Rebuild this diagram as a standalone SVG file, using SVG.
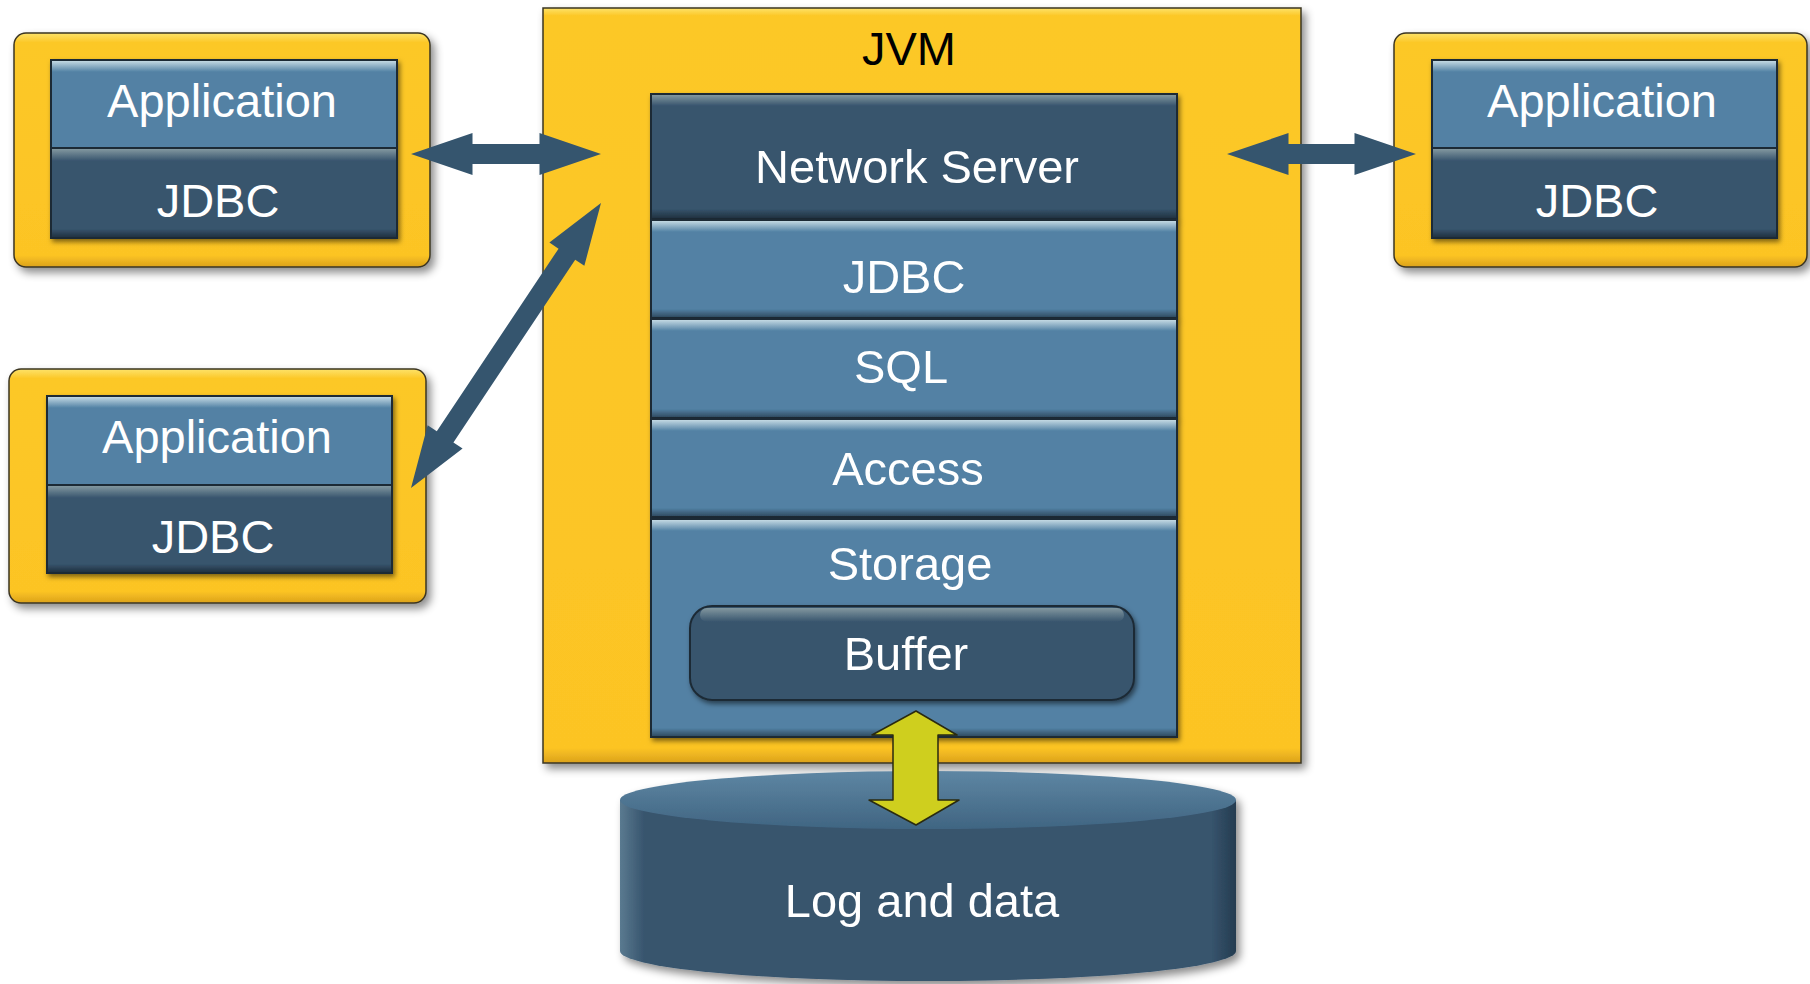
<svg xmlns="http://www.w3.org/2000/svg" width="1810" height="984" viewBox="0 0 1810 984">
<defs>
<filter id="sh" x="-10%" y="-10%" width="125%" height="125%">
<feDropShadow dx="4" dy="5" stdDeviation="4" flood-color="#000" flood-opacity="0.45"/>
</filter>
<filter id="sh2" x="-10%" y="-10%" width="125%" height="125%">
<feDropShadow dx="2" dy="3" stdDeviation="2.5" flood-color="#000" flood-opacity="0.5"/>
</filter>
<linearGradient id="yel" x1="0" y1="0" x2="0" y2="1">
<stop offset="0" stop-color="#fde36b"/>
<stop offset="0.04" stop-color="#fcc828"/>
<stop offset="0.95" stop-color="#fcc424"/>
<stop offset="1" stop-color="#dba21c"/>
</linearGradient>
<linearGradient id="yelS" x1="0" y1="0" x2="0" y2="1">
<stop offset="0" stop-color="#fde36b"/>
<stop offset="0.01" stop-color="#fcc828"/>
<stop offset="0.98" stop-color="#fcc424"/>
<stop offset="1" stop-color="#dba21c"/>
</linearGradient>
<linearGradient id="hl" x1="0" y1="0" x2="0" y2="1">
<stop offset="0" stop-color="#c8dde6" stop-opacity="0.95"/>
<stop offset="1" stop-color="#c8dde6" stop-opacity="0"/>
</linearGradient>
<linearGradient id="hlD" x1="0" y1="0" x2="0" y2="1">
<stop offset="0" stop-color="#8fa3a8" stop-opacity="0.85"/>
<stop offset="1" stop-color="#8fa3a8" stop-opacity="0"/>
</linearGradient>
<linearGradient id="bs" x1="0" y1="0" x2="0" y2="1">
<stop offset="0" stop-color="#000" stop-opacity="0"/>
<stop offset="1" stop-color="#000" stop-opacity="0.4"/>
</linearGradient>
<linearGradient id="cylBody" x1="0" y1="0" x2="1" y2="0">
<stop offset="0" stop-color="#5a7a90"/>
<stop offset="0.04" stop-color="#37546d"/>
<stop offset="0.96" stop-color="#37546d"/>
<stop offset="1" stop-color="#243c50"/>
</linearGradient>
<linearGradient id="cylTop" x1="0" y1="0" x2="0" y2="1">
<stop offset="0" stop-color="#5e86a3"/>
<stop offset="1" stop-color="#406582"/>
</linearGradient>
</defs>
<style>
.yb{stroke:#3a3422;stroke-width:1.5}
.lp{fill:#5281a4;stroke:#1d2b36;stroke-width:2}
.dp{fill:#37546d;stroke:#1d2b36;stroke-width:2}
.t{font-family:"Liberation Sans",Arial,sans-serif;font-size:47px;fill:#fff;text-anchor:middle}
.tk{font-family:"Liberation Sans",Arial,sans-serif;font-size:47px;fill:#000;text-anchor:middle}
.ar{fill:#35556e}
.ga{fill:#cfcf1e;stroke:#2a2a10;stroke-width:1.5;stroke-linejoin:round}
</style>

<g id="jvm">
<rect x="543" y="8" width="758" height="755" fill="url(#yelS)" class="yb" filter="url(#sh)"/>
<text x="909" y="65" class="tk">JVM</text>
</g>

<g id="network-server" filter="url(#sh2)">
<rect x="651" y="94" width="526" height="125" class="dp"/>
<rect x="652" y="95" width="524" height="11" fill="url(#hlD)"/>
<rect x="652" y="209" width="524" height="9" fill="url(#bs)"/>
<text x="917" y="183" class="t">Network Server</text>
</g>

<g id="jdbc-server" filter="url(#sh2)">
<rect x="651" y="220" width="526" height="98" class="lp"/>
<rect x="652" y="221" width="524" height="11" fill="url(#hl)"/>
<rect x="652" y="309" width="524" height="8" fill="url(#bs)"/>
<text x="904" y="293" class="t">JDBC</text>
</g>

<g id="sql" filter="url(#sh2)">
<rect x="651" y="319" width="526" height="99" class="lp"/>
<rect x="652" y="320" width="524" height="11" fill="url(#hl)"/>
<rect x="652" y="409" width="524" height="8" fill="url(#bs)"/>
<text x="901" y="383" class="t">SQL</text>
</g>

<g id="access" filter="url(#sh2)">
<rect x="651" y="419" width="526" height="98" class="lp"/>
<rect x="652" y="420" width="524" height="11" fill="url(#hl)"/>
<rect x="652" y="508" width="524" height="8" fill="url(#bs)"/>
<text x="908" y="485" class="t">Access</text>
</g>

<g id="storage" filter="url(#sh2)">
<rect x="651" y="519" width="526" height="218" class="lp"/>
<rect x="652" y="520" width="524" height="11" fill="url(#hl)"/>
<rect x="652" y="728" width="524" height="8" fill="url(#bs)"/>
<text x="910" y="580" class="t">Storage</text>
</g>

<g id="buffer" filter="url(#sh2)">
<rect x="690" y="606" width="444" height="94" rx="22" class="dp"/>
<rect x="700" y="608" width="424" height="14" rx="7" fill="url(#hlD)"/>
<text x="906" y="670" class="t">Buffer</text>
</g>

<g id="log-and-data" filter="url(#sh)">
<path d="M620,800 L620,951 A308,30 0 0 0 1236,951 L1236,800 Z" fill="url(#cylBody)"/>
<ellipse cx="928" cy="800" rx="308" ry="29" fill="url(#cylTop)"/>
<text x="922" y="917" class="t">Log and data</text>
</g>

<g id="client-top-left">
<rect x="14" y="33" width="416" height="234" rx="12" fill="url(#yel)" class="yb" filter="url(#sh)"/>
<g filter="url(#sh2)">
<rect x="51" y="60" width="346" height="88" class="lp"/>
<rect x="52" y="61" width="344" height="11" fill="url(#hl)"/>
<rect x="51" y="148" width="346" height="90" class="dp"/>
<rect x="52" y="149" width="344" height="12" fill="url(#hlD)"/>
<rect x="52" y="229" width="344" height="8" fill="url(#bs)"/>
</g>
<text x="222" y="117" class="t">Application</text>
<text x="218" y="217" class="t">JDBC</text>
</g>

<g id="client-bottom-left">
<rect x="9" y="369" width="417" height="234" rx="12" fill="url(#yel)" class="yb" filter="url(#sh)"/>
<g filter="url(#sh2)">
<rect x="47" y="396" width="345" height="89" class="lp"/>
<rect x="48" y="397" width="343" height="11" fill="url(#hl)"/>
<rect x="47" y="485" width="345" height="88" class="dp"/>
<rect x="48" y="486" width="343" height="12" fill="url(#hlD)"/>
<rect x="48" y="564" width="343" height="8" fill="url(#bs)"/>
</g>
<text x="217" y="453" class="t">Application</text>
<text x="213" y="553" class="t">JDBC</text>
</g>

<g id="client-right">
<rect x="1394" y="33" width="413" height="234" rx="12" fill="url(#yel)" class="yb" filter="url(#sh)"/>
<g filter="url(#sh2)">
<rect x="1432" y="60" width="345" height="88" class="lp"/>
<rect x="1433" y="61" width="343" height="11" fill="url(#hl)"/>
<rect x="1432" y="148" width="345" height="90" class="dp"/>
<rect x="1433" y="149" width="343" height="12" fill="url(#hlD)"/>
<rect x="1433" y="229" width="343" height="8" fill="url(#bs)"/>
</g>
<text x="1602" y="117" class="t">Application</text>
<text x="1597" y="217" class="t">JDBC</text>
</g>

<g id="connectors">
<path class="ar" transform="translate(411,154)" d="M0,0 L61.5,-21 L61.5,-10 L128.5,-10 L128.5,-21 L190,0 L128.5,21 L128.5,10 L61.5,10 L61.5,21 Z"/>
<path class="ar" transform="translate(1227,154)" d="M0,0 L61.5,-21 L61.5,-10 L127.5,-10 L127.5,-21 L189,0 L127.5,21 L127.5,10 L61.5,10 L61.5,21 Z"/>
<path class="ar" transform="translate(411,488) rotate(-56.31)" d="M0,0 L61.5,-21 L61.5,-10 L281,-10 L281,-21 L342.5,0 L281,21 L281,10 L61.5,10 L61.5,21 Z"/>
<path class="ga" d="M916,711 L957,735 L938,735 L938,800 L959,800 L916,825 L869,800 L893,800 L893,735 L872,735 Z"/>
</g>
</svg>
